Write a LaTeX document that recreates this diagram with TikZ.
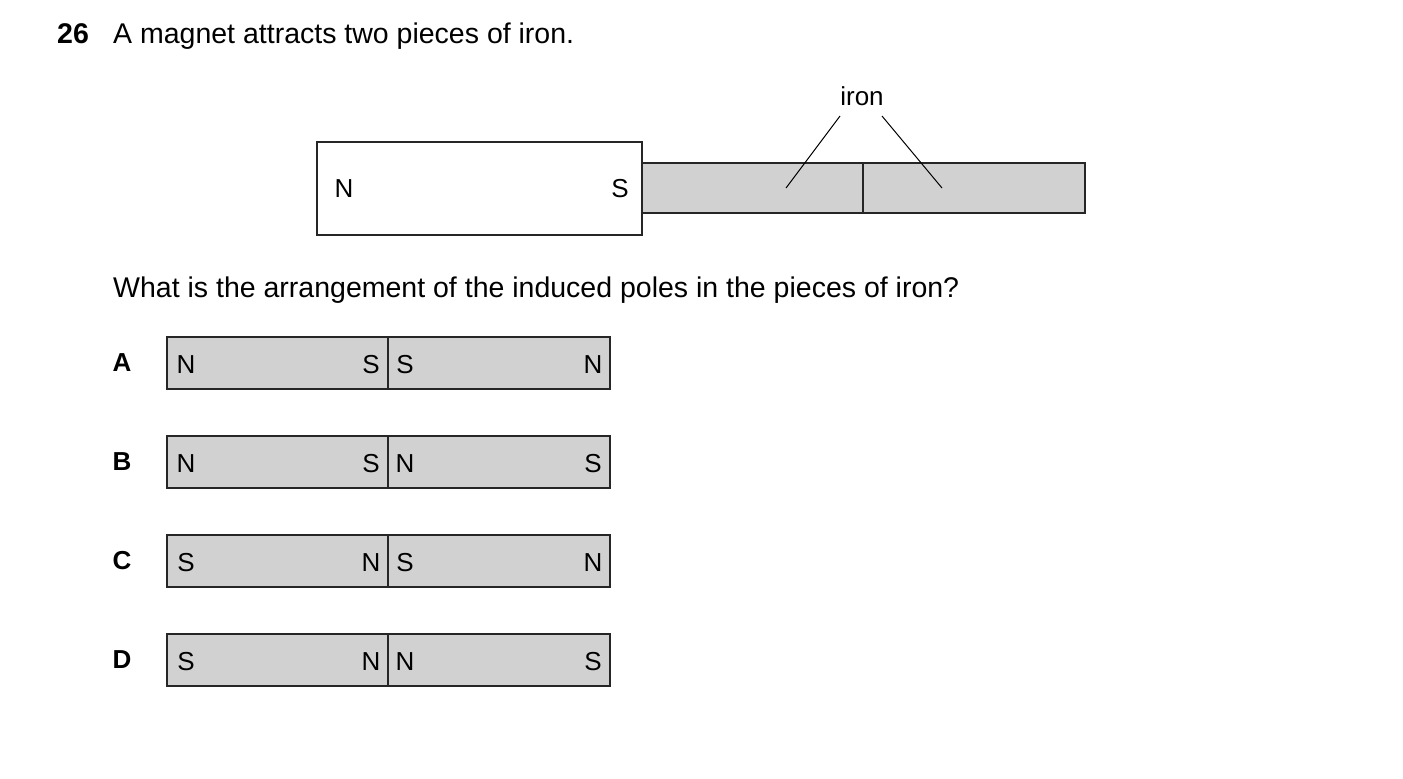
\documentclass[tikz,border=0pt]{standalone}
\usepackage{fontspec}
\setmainfont{Liberation Sans}
\tikzset{
  every picture/.style={x=1pt,y=-1pt},
  bar/.style={draw=black!85,line width=2pt,fill=black!18},
  pole/.style={font=\fontsize{26}{31}\selectfont,inner sep=0pt},
  txt/.style={font=\fontsize{28.5}{34}\selectfont,anchor=base west,inner sep=0pt}
}
\begin{document}
\begin{tikzpicture}
  \useasboundingbox (0,0) rectangle (1403,779);
  \node[txt,font=\fontsize{28.5}{34}\selectfont\bfseries] (num) at (57,43) {26};
  \node[txt] (title) at (113,43) {A magnet attracts two pieces of iron.};
  % magnet and iron
  \draw[line width=2pt,draw=black!85] (317,142) coordinate(M1) rectangle (642,235) coordinate(M2);
  \node[pole] (mN) at (344,189) {N};
  \node[pole] (mS) at (620,189) {S};
  \draw[bar] (642,163) rectangle (863,213);
  \draw[bar] (863,163) rectangle (1085,213);
  \node[pole,font=\fontsize{26}{31}\selectfont] (iron) at (862,96) {iron};
  \coordinate (i1) at (786,188);
  \coordinate (i2) at (942,188);
  \draw[line width=1pt] (840,116) -- (i1);
  \draw[line width=1pt] (882,116) -- (i2);
  \node[txt] (q) at (113,297) {What is the arrangement of the induced poles in the pieces of iron?};
  % options
  \foreach \L/\a/\b/\c/\d [count=\i] in {A/N/S/S/N,B/N/S/N/S,C/S/N/S/N,D/S/N/N/S}{
    \pgfmathsetmacro{\y}{363+99*(\i-1)}
    \draw[bar] (167,\y-26) rectangle (388,\y+26);
    \draw[bar] (388,\y-26) rectangle (610,\y+26);
    \node[pole,font=\fontsize{26}{31}\selectfont\bfseries] (opt\L) at (122,\y) {\L};
    \node[pole] at (186,\y+2) {\a};
    \node[pole] at (371,\y+2) {\b};
    \node[pole] at (405,\y+2) {\c};
    \node[pole] at (593,\y+2) {\d};
  }
\end{tikzpicture}
\end{document}
